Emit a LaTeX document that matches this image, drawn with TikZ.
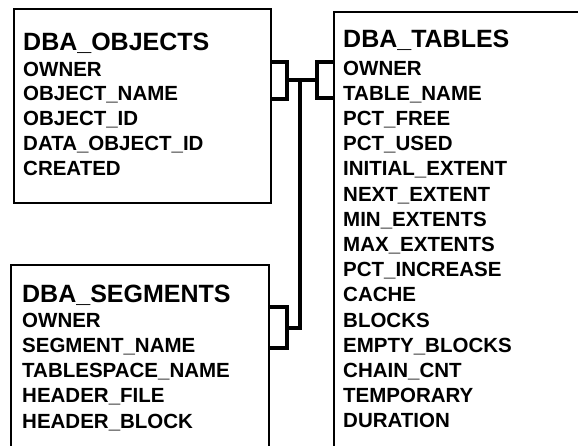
\documentclass[tikz,border=0pt]{standalone}
\usepackage{fontspec}
\setmainfont{Liberation Sans}
\usetikzlibrary{calc,positioning}

\begin{document}
\begin{tikzpicture}[x=1pt,y=-1pt,
	tbl/.style={draw,line width=1.8pt,anchor=north west,inner sep=0pt},
	ttl/.style={anchor=base west,inner sep=0pt,font=\fontsize{25}{30}\selectfont\bfseries},
	fld/.style={anchor=base west,inner sep=0pt,font=\fontsize{20.5}{24}\selectfont\bfseries},
	link/.style={line width=3.8pt}]
	\useasboundingbox (0,0) rectangle (578,445);
	\clip (0,0) rectangle (578,445);
	% the three views
	\node[tbl,minimum width=257,minimum height=194] (objects) at (13,8) {};
	\node[tbl,minimum width=300,minimum height=500] (tables) at (333,11) {};
	\node[tbl,minimum width=258,minimum height=300] (segments) at (10,264) {};
	\node[ttl] (objtitle) at (23,50) {DBA\_OBJECTS};
	\node[ttl] (tabtitle) at (343,47) {DBA\_TABLES};
	\node[ttl] (segtitle) at (22,302) {DBA\_SEGMENTS};
	\foreach \f [count=\i] in {OWNER,OBJECT\_NAME,OBJECT\_ID,DATA\_OBJECT\_ID,CREATED}
		\node[fld] (obj\i) at (23,{76+24.75*(\i-1)}) {\f};
	\foreach \f [count=\i] in {OWNER,TABLE\_NAME,PCT\_FREE,PCT\_USED,INITIAL\_EXTENT,
		NEXT\_EXTENT,MIN\_EXTENTS,MAX\_EXTENTS,PCT\_INCREASE,CACHE,BLOCKS,
		EMPTY\_BLOCKS,CHAIN\_CNT,TEMPORARY,DURATION}
		\node[fld] (tab\i) at (343,{75+25.2*(\i-1)}) {\f};
	\foreach \f [count=\i] in {OWNER,SEGMENT\_NAME,TABLESPACE\_NAME,HEADER\_FILE,HEADER\_BLOCK}
		\node[fld] (seg\i) at (22,{327+25.25*(\i-1)}) {\f};
	% joins
	\path
	(287,80) coordinate (objfork)
	(317,80) coordinate (tabfork)
	(300,80) coordinate (trunk)
	(300,328) coordinate (bend)
	(287,328) coordinate (segfork)
	;
	\draw[link] (objects.east |- 0,62) -| (objfork |- 0,99) -- (objects.east |- 0,99);
	\draw[link] (tables.west |- 0,62) -| (tabfork |- 0,98) -- (tables.west |- 0,98);
	\draw[link] (objfork) -- (tabfork);
	\draw[link] (trunk) -- (bend) -- (segfork);
	\draw[link] (segments.east |- 0,307) -| (segfork |- 0,348) -- (segments.east |- 0,348);
\end{tikzpicture}
\end{document}
